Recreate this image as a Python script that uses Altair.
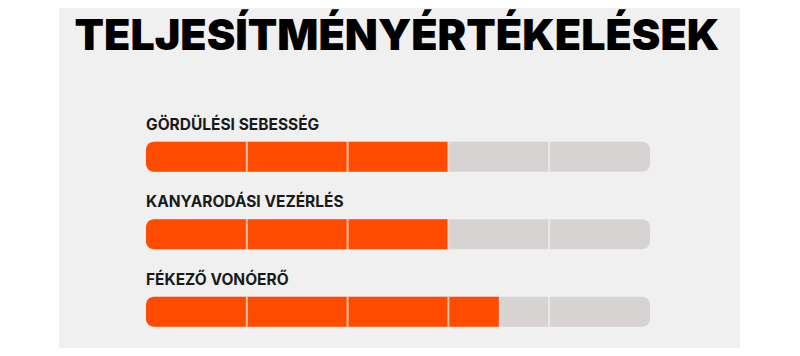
import altair as alt
import pandas as pd

title_text = "TELJESÍTMÉNYÉRTÉKELÉSEK"
categories = ["GÖRDÜLÉSI SEBESSÉG", "KANYARODÁSI VEZÉRLÉS", "FÉKEZŐ VONÓERŐ"]
scores = [3.0, 3.0, 3.5]
max_score = 5
dividers = [1, 2, 3, 4]

ORANGE = "#ff4b00"
GREY = "#d6d3d2"
PANEL = "#f1f0f0"

bars = pd.DataFrame({
    "category": categories,
    "row": list(range(len(categories))),
    "score": scores,
    "zero": [0] * len(categories),
    "max": [max_score] * len(categories),
})
divs = pd.DataFrame(
    [{"row": r, "pos": d} for r in range(len(categories)) for d in dividers]
)

xs = alt.Scale(domain=[0, max_score], range=[138, 642], padding=0)
ys = alt.Scale(domain=[0, len(categories) - 1], range=[148.7, 303.7], padding=0)

panel = alt.Chart(pd.DataFrame({"a": [0]})).mark_rect(color=PANEL).encode(
    x=alt.value(51), x2=alt.value(732), y=alt.value(0), y2=alt.value(340)
)

title = alt.Chart(pd.DataFrame({"t": [title_text]})).mark_text(
    font="Inter", fontWeight=900, fontSize=43, color="#000000",
    align="center", baseline="alphabetic"
).encode(x=alt.value(389), y=alt.value(42), text="t:N")

grey = alt.Chart(bars).mark_bar(
    color=GREY, size=30, orient="horizontal", cornerRadius=8
).encode(
    x=alt.X("zero:Q", scale=xs, axis=None),
    x2="max:Q",
    y=alt.Y("row:Q", scale=ys, axis=None),
)

orange = alt.Chart(bars).mark_bar(
    color=ORANGE, size=30, orient="horizontal",
    cornerRadiusTopLeft=8, cornerRadiusBottomLeft=8
).encode(
    x=alt.X("zero:Q", scale=xs, axis=None),
    x2="score:Q",
    y=alt.Y("row:Q", scale=ys, axis=None),
)

ticks = alt.Chart(divs).mark_tick(
    color="#f4f2f1", orient="vertical", size=30, thickness=2
).encode(
    x=alt.X("pos:Q", scale=xs, axis=None),
    y=alt.Y("row:Q", scale=ys, axis=None),
)

labels = alt.Chart(bars).mark_text(
    font="Inter", fontWeight="bold", fontSize=15.5, color="#1a1a1a",
    align="left", baseline="alphabetic", dy=-27
).encode(
    x=alt.X("zero:Q", scale=xs, axis=None),
    y=alt.Y("row:Q", scale=ys, axis=None),
    text="category:N",
)

chart = alt.layer(panel, title, grey, orange, ticks, labels).properties(
    width=784, height=340, padding=0, autosize=alt.AutoSizeParams(type="none"),
    background="#ffffff"
).configure_view(stroke=None)

chart.save("out.html", embed_options={"renderer": "svg", "actions": False})
